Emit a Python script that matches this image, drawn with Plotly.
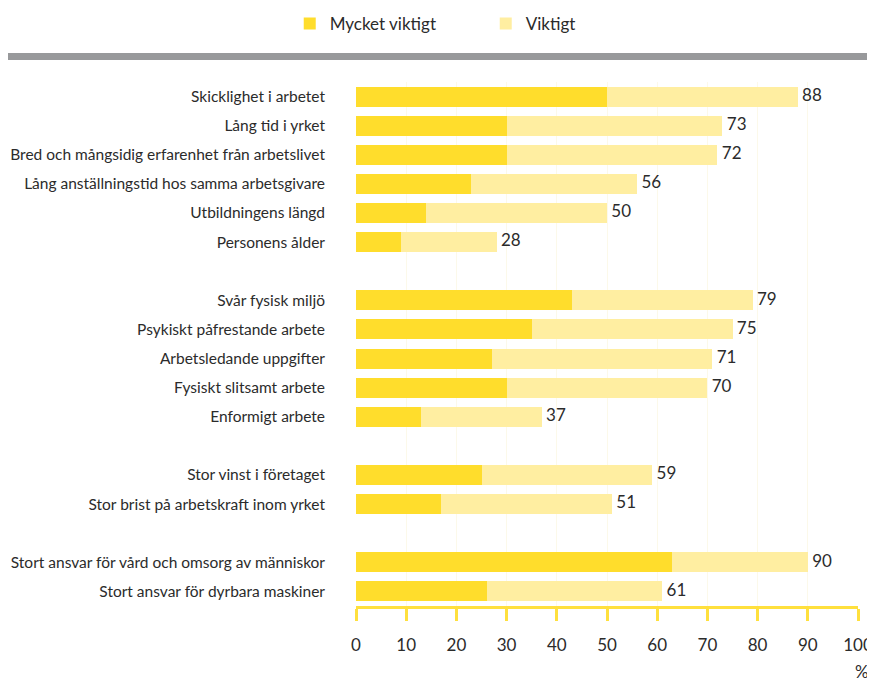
import plotly.graph_objects as go

# Data (percent)
labels = [
    "Skicklighet i arbetet", "Lång tid i yrket",
    "Bred och mångsidig erfarenhet från arbetslivet",
    "Lång anställningstid hos samma arbetsgivare",
    "Utbildningens längd", "Personens ålder",
    "Svår fysisk miljö", "Psykiskt påfrestande arbete",
    "Arbetsledande uppgifter", "Fysiskt slitsamt arbete", "Enformigt arbete",
    "Stor vinst i företaget", "Stor brist på arbetskraft inom yrket",
    "Stort ansvar för vård och omsorg av människor",
    "Stort ansvar för dyrbara maskiner",
]
totals = [88, 73, 72, 56, 50, 28, 79, 75, 71, 70, 37, 59, 51, 90, 61]
mycket = [50, 30, 30, 23, 14, 9, 43, 35, 27, 30, 13, 25, 17, 63, 26]
viktigt = [t - m for t, m in zip(totals, mycket)]
group_sizes = [6, 5, 2, 2]

# row positions with an empty row between groups
ypos = []
pos = 0
for g in group_sizes:
    for i in range(g):
        ypos.append(pos)
        pos += 1
    pos += 1
last = ypos[-1]

DARK = "#FFDD2C"
LIGHT = "#FFEEA1"
TXT = "#2b2b2b"
FONT = "Lato"

fig = go.Figure()
fig.add_trace(go.Bar(
    y=ypos, x=mycket, orientation="h", name="Mycket viktigt",
    marker=dict(color=DARK, line=dict(width=0)), width=0.69,
))
fig.add_trace(go.Bar(
    y=ypos, x=viktigt, orientation="h", name="Viktigt",
    marker=dict(color=LIGHT, line=dict(width=0)), width=0.69,
))
fig.add_trace(go.Scatter(
    y=ypos, x=totals, mode="text", text=[" " + str(t) for t in totals],
    textposition="middle right", showlegend=False, cliponaxis=False,
    textfont=dict(size=17, color=TXT, family=FONT),
))

# page body has an 8px margin, so the figure is a bit smaller than the window
fig.update_layout(
    width=867, height=674,
    barmode="stack",
    plot_bgcolor="white", paper_bgcolor="white",
    margin=dict(l=348, r=17, t=74, b=76, autoexpand=False),
    font=dict(family=FONT, color=TXT, size=15),
    hovermode=False,
    legend=dict(
        orientation="h", x=-0.132, y=1.111, xanchor="left", yanchor="middle",
        traceorder="normal",
        font=dict(size=17, color=TXT), entrywidth=151, entrywidthmode="pixels",
        bgcolor="rgba(0,0,0,0)",
    ),
    shapes=[dict(
        type="line", xref="paper", yref="paper",
        x0=-0.71, x1=1.05, y0=1.0485, y1=1.0485,
        line=dict(color="#98999b", width=7),
    )],
    annotations=[dict(
        text="%", xref="paper", yref="paper", x=1.008, y=-0.125,
        xanchor="center", yanchor="middle", showarrow=False,
        font=dict(size=17, color=TXT),
    )],
)

fig.update_xaxes(
    range=[0, 100], tickvals=list(range(0, 101, 10)),
    showgrid=True, gridcolor="#FCF9EA", gridwidth=1,
    showline=True, linecolor="#FFE03D", linewidth=3,
    ticks="outside", ticklen=12, tickwidth=3, tickcolor="#FFE03D",
    ticklabelstandoff=10, tickfont=dict(size=17, color=TXT),
    zeroline=False, fixedrange=True, automargin=False,
)
fig.update_yaxes(
    range=[last + 0.5, -0.5], tickvals=ypos, ticktext=labels,
    showgrid=False, zeroline=False, showline=False,
    ticks="", ticklabelstandoff=30, tickfont=dict(size=15.5, color=TXT),
    fixedrange=True, automargin=False,
)

fig.write_html("out.html")
